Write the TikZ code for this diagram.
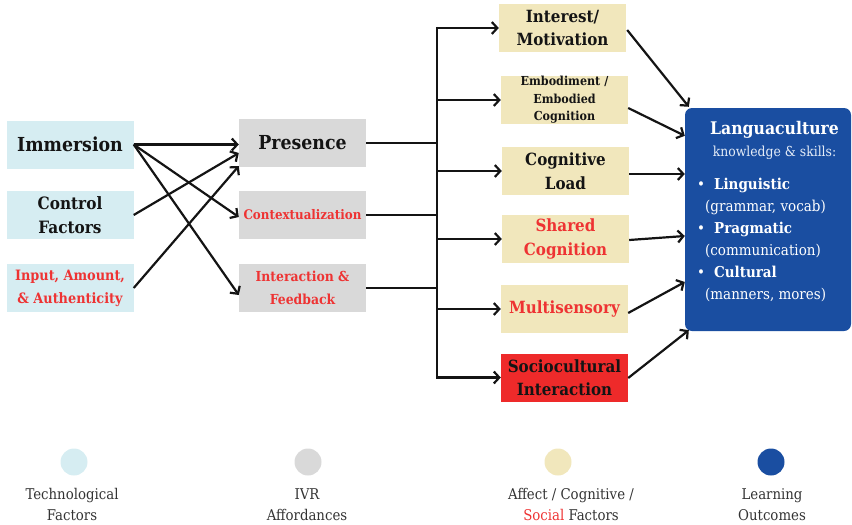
\documentclass[tikz,border=0pt]{standalone}
\usepackage{fontspec}
\setmainfont{DejaVu Serif Condensed}
\usetikzlibrary{arrows.meta,calc}
\definecolor{techblue}{HTML}{D6EDF2}
\definecolor{ivrgray}{HTML}{D9D9D9}
\definecolor{beige}{HTML}{F1E7BC}
\definecolor{deepblue}{HTML}{1A4EA1}
\definecolor{redtext}{HTML}{EE3333}
\definecolor{redfill}{HTML}{EE2A2A}
\definecolor{ink}{HTML}{141414}
\definecolor{legendtext}{HTML}{333333}
\definecolor{paletext}{HTML}{E4ECF7}
\newcommand{\fsz}[2]{\fontsize{#1}{#2}\selectfont}
\begin{document}
\begin{tikzpicture}[x=1pt,y=-1pt,
  box/.style={minimum width=127pt,minimum height=48pt,inner sep=0pt,align=center,text=ink},
  techbox/.style={box,fill=techblue},
  ivrbox/.style={box,fill=ivrgray},
  affbox/.style={box,fill=beige},
  conn/.style={line width=2.2pt,draw=ink},
  arr/.style={conn,-{Straight Barb[length=5.5pt,width=12pt]}},
  dot/.style={circle,minimum size=27pt,inner sep=0pt},
  legend/.style={align=center,text=legendtext,font=\fsz{14.8}{21}}
]
\useasboundingbox (0,0) rectangle (852,525);

% technological factors
\node[techbox,font=\bfseries\fsz{19.3}{22}] (imm) at (70,144.5) {Immersion};
\node[techbox,font=\bfseries\fsz{17}{24}] (ctl) at (70,215) {Control\\Factors};
\node[techbox,font=\bfseries\fsz{14.3}{23},text=redtext] (inp) at (70,288) {Input, Amount,\\\& Authenticity};

% IVR affordances
\node[ivrbox,font=\bfseries\fsz{19.3}{22}] (pres) at (302.5,143) {Presence};
\node[ivrbox,font=\bfseries\fsz{13.2}{22},text=redtext] (ctx) at (302.5,215) {Contextualization};
\node[ivrbox,font=\bfseries\fsz{13.8}{23},text=redtext] (ifb) at (302.5,288) {Interaction \&\\Feedback};

% affect / cognitive / social factors
\node[affbox,font=\bfseries\fsz{16.8}{23.5}] (intr) at (562.5,28) {Interest/\\Motivation};
\node[affbox,font=\bfseries\fsz{12.4}{17.5}] (emb) at (564.5,100) {Embodiment /\\Embodied\\Cognition};
\node[affbox,font=\bfseries\fsz{16.8}{23.5}] (cog) at (565.5,171) {Cognitive\\Load};
\node[affbox,font=\bfseries\fsz{16.8}{23.5},text=redtext] (shr) at (565.5,239) {Shared\\Cognition};
\node[affbox,font=\bfseries\fsz{16.8}{23.5},text=redtext] (mult) at (564.5,309) {Multisensory};
\node[box,fill=redfill,font=\bfseries\fsz{16.8}{23.5}] (soc) at (564.5,377.5) {Sociocultural\\Interaction};

% learning outcomes
\node[fill=deepblue,rounded corners=7pt,minimum width=166pt,minimum height=223pt,inner sep=0pt,text=white,font=\fsz{15}{22}] (out) at (768,219.5)
{\begin{tabular}{@{}l@{}}
\multicolumn{1}{@{}c@{}}{\hspace*{13pt}\bfseries\fsz{17.4}{22}Languaculture}\\
\multicolumn{1}{@{}c@{}}{\hspace*{13pt}\color{paletext}\fsz{13.8}{22}knowledge \& skills:}\\[11pt]
\textbullet\hspace{9pt}\textbf{Linguistic}\\
\hspace*{8pt}(grammar, vocab)\\
\textbullet\hspace{9pt}\textbf{Pragmatic}\\
\hspace*{8pt}(communication)\\
\textbullet\hspace{9pt}\textbf{Cultural}\\
\hspace*{8pt}(manners, mores)\\[14pt]
\end{tabular}};

% technological -> affordances
\draw[arr] (imm.east) -- (imm.east -| pres.west);
\draw[arr] (imm.east) -- ($(ctx.west)+(0,2)$);
\draw[arr] (imm.east) -- ($(ifb.west)+(0,7)$);
\draw[arr] (ctl.east) -- ($(pres.west)+(0,10)$);
\draw[arr] (inp.east) -- ($(pres.west)+(0,23)$);

% affordances -> bus
\coordinate (bus) at (437,0);
\draw[conn] (pres.east) -- (pres.east -| bus);
\draw[conn] (ctx.east) -- (ctx.east -| bus);
\draw[conn] (ifb.east) -- (ifb.east -| bus);
\draw[conn] ($(intr.west -| bus)+(0,-1.1)$) -- ($(soc.west -| bus)+(0,1.1)$);
\foreach \n in {intr,emb,cog,shr,mult,soc}
  \draw[arr] (\n.west -| bus) -- (\n.west);

% factors -> outcomes
\draw[arr] ($(intr.east)+(1,2)$) -- ($(out.north west)+(4,-1)$);
\draw[arr] ($(emb.east)+(0,8)$) -- ($(out.north west)+(0,28)$);
\draw[arr] ($(cog.east)+(0,3)$) -- ($(cog.east -| out.west)+(0,3)$);
\draw[arr] ($(shr.east)+(0,1)$) -- ($(out.west)+(0,16.5)$);
\draw[arr] ($(mult.east)+(0,4)$) -- ($(out.west)+(0,62.5)$);
\draw[arr] ($(soc.east)+(0,0.5)$) -- ($(out.south west)+(4,-1)$);

% legend
\node[dot,fill=techblue] (d1) at (74,462) {};
\node[dot,fill=ivrgray] (d2) at (308,462) {};
\node[dot,fill=beige] (d3) at (558,462) {};
\node[dot,fill=deepblue] (d4) at (771,462) {};
\node[legend] (t1) at (72,504.5) {Technological\\Factors};
\node[legend] (t2) at (307,504.5) {IVR\\Affordances};
\node[legend] (t3) at (571,504.5) {Affect / Cognitive /\\{\color{redtext}Social} Factors};
\node[legend] (t4) at (772,504.5) {Learning\\Outcomes};
\end{tikzpicture}
\end{document}
